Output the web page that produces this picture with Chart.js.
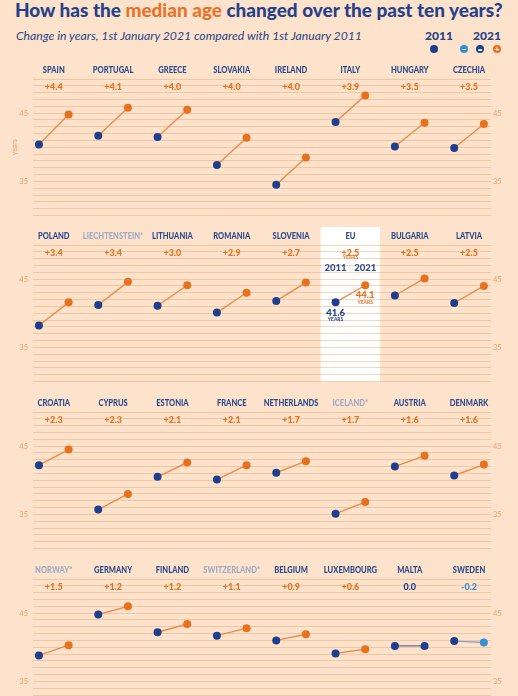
<!DOCTYPE html>
<html>
<head>
<meta charset="utf-8">
<script src="https://cdn.jsdelivr.net/npm/chart.js@4.4.1/dist/chart.umd.min.js"></script>
<style>
  body { margin: 0; width: 518px; height: 696px; overflow: hidden; background: #fde3cb; position: relative; font-family: Lato, 'Open Sans', sans-serif; }
  .txt { position: absolute; white-space: nowrap; line-height: 1; }
  #title { left: 15px; top: 1px; font-size: 17px; font-weight: 900; color: #27418a; }
  #title .hl { color: #e8732a; }
  #subtitle { left: 16px; top: 30px; font-size: 11px; font-style: italic; color: #2c4589; }
  .yr { top: 30px; font-size: 12px; font-weight: 900; color: #27418a; transform: translateX(-50%); }
  .dot { position: absolute; width: 8px; height: 8px; border-radius: 50%; top: 45px; color: #fff; font: 900 8px/8px Lato, sans-serif; text-align: center; }
  canvas { position: absolute; left: 0; }
</style>
</head>
<body>
<div id="title" class="txt">How has the <span class="hl">median age</span> changed over the past ten years?</div>
<div id="subtitle" class="txt">Change in years, 1st January 2021 compared with 1st January 2011</div>
<div class="txt yr" style="left:439px">2011</div>
<div class="txt yr" style="left:487px">2021</div>
<div class="dot" style="left:430px;background:#1e3f8e"></div>
<div class="dot" style="left:460px;background:#3390d4">&minus;</div>
<div class="dot" style="left:476px;background:#1e3f8e">=</div>
<div class="dot" style="left:493px;background:#e8711f">+</div>

<canvas id="row0" width="518" height="170" style="top:55px"></canvas>
<canvas id="row1" width="518" height="170" style="top:221px"></canvas>
<canvas id="row2" width="518" height="170" style="top:388px"></canvas>
<canvas id="row3" width="518" height="170" style="top:555px"></canvas>

<script>
// countries in reading order, 8 per row; * = not EU member
const countries = [
  'SPAIN', 'PORTUGAL', 'GREECE', 'SLOVAKIA', 'IRELAND', 'ITALY', 'HUNGARY', 'CZECHIA',
  'POLAND', 'LIECHTENSTEIN*', 'LITHUANIA', 'ROMANIA', 'SLOVENIA', 'EU', 'BULGARIA', 'LATVIA',
  'CROATIA', 'CYPRUS', 'ESTONIA', 'FRANCE', 'NETHERLANDS', 'ICELAND*', 'AUSTRIA', 'DENMARK',
  'NORWAY*', 'GERMANY', 'FINLAND', 'SWITZERLAND*', 'BELGIUM', 'LUXEMBOURG', 'MALTA', 'SWEDEN'
];
const age2011 = [
  40.4, 41.7, 41.5, 37.4, 34.5, 43.7, 40.1, 39.9,
  38.2, 41.2, 41.1, 40.1, 41.8, 41.6, 42.6, 41.5,
  42.2, 35.7, 40.5, 40.1, 41.1, 35.1, 42.0, 40.7,
  38.8, 44.8, 42.2, 41.7, 41.0, 39.1, 40.2, 40.9
];
const age2021 = [
  44.8, 45.8, 45.5, 41.4, 38.5, 47.6, 43.6, 43.4,
  41.6, 44.6, 44.1, 43.0, 44.5, 44.1, 45.1, 44.0,
  44.5, 38.0, 42.6, 42.2, 42.8, 36.8, 43.6, 42.3,
  40.3, 46.0, 43.4, 42.8, 41.9, 39.7, 40.2, 40.7
];
const changes = [
  '+4.4', '+4.1', '+4.0', '+4.0', '+4.0', '+3.9', '+3.5', '+3.5',
  '+3.4', '+3.4', '+3.0', '+2.9', '+2.7', '+2.5', '+2.5', '+2.5',
  '+2.3', '+2.3', '+2.1', '+2.1', '+1.7', '+1.7', '+1.6', '+1.6',
  '+1.5', '+1.2', '+1.2', '+1.1', '+0.9', '+0.6', '0.0', '-0.2'
];
const yearLabels = ['2011', '2021'];
const axisTicks = [45, 35];

const NAVY = '#1e3f8e';
const NAME_BLUE = '#2f4c8e';
const NON_EU = '#a0abc6';
const ORANGE = '#e8711f';
const LINE_ORANGE = '#ec8a4e';
const LIGHT_BLUE = '#3390d4';
const GRID = 'rgba(236,146,84,0.38)';
const TICK = '#ef9f68';

// fit the header lines to the width they take in the original
function fitWidth(el, target) {
  const w = el.getBoundingClientRect().width;
  const fs = parseFloat(getComputedStyle(el).fontSize);
  el.style.fontSize = (fs * target / w) + 'px';
}
fitWidth(document.getElementById('title'), 488);
fitWidth(document.getElementById('subtitle'), 346);

function drawText(ctx, text, x, y, font, color, squeeze) {
  ctx.font = font;
  ctx.fillStyle = color;
  ctx.textAlign = 'center';
  ctx.textBaseline = 'middle';
  const w = ctx.measureText(text).width;
  ctx.fillText(text, x, y, w * (squeeze || 1));
}

const panelLabels = {
  id: 'panelLabels',
  beforeDraw(chart) {
    const row = chart.options.plugins.panelLabels.row;
    const { ctx, chartArea, scales: { x } } = chart;
    for (let i = 0; i < 8; i++) {
      if (countries[row * 8 + i] !== 'EU') continue;
      const left = x.getPixelForValue(i - 0.5);
      const right = x.getPixelForValue(i + 0.5);
      ctx.save();
      ctx.fillStyle = '#ffffff';
      ctx.fillRect(left, chartArea.top - 18, right - left, chartArea.bottom - chartArea.top + 18);
      ctx.restore();
    }
  },
  beforeDatasetsDraw(chart) {
    const row = chart.options.plugins.panelLabels.row;
    const { ctx, chartArea, scales: { x, y } } = chart;
    ctx.save();
    for (let i = 0; i < 8; i++) {
      const k = row * 8 + i;
      const cx = x.getPixelForValue(i);
      const name = countries[k];
      drawText(ctx, name, cx, chartArea.top - 9, '900 9px Lato', name.endsWith('*') ? NON_EU : NAME_BLUE, 0.84);
      const ch = parseFloat(changes[k]);
      const col = ch > 0 ? ORANGE : ch < 0 ? LIGHT_BLUE : NAVY;
      drawText(ctx, changes[k], cx, chartArea.top + 7.5, '900 9.5px Lato', col, 0.95);

      if (name === 'EU') {
        drawText(ctx, 'YEARS', cx, chartArea.top + 12.5, 'bold 5.5px Lato', ORANGE, 0.9);
        const xs = [x.getPixelForValue(i - 0.25), x.getPixelForValue(i + 0.25)];
        const vals = [age2011[k], age2021[k]];
        const cols = [NAVY, ORANGE];
        for (let j = 0; j < 2; j++) {
          drawText(ctx, yearLabels[j], xs[j], chartArea.top + 22.5, '900 10px Lato', NAME_BLUE, 0.95);
          const py = y.getPixelForValue(vals[j]);
          drawText(ctx, vals[j].toFixed(1), xs[j], py + 10, '900 10px Lato', cols[j], 0.95);
          drawText(ctx, 'YEARS', xs[j], py + 17, 'bold 5.5px Lato', cols[j], 0.9);
        }
      }
    }
    ctx.restore();
  }
};

function buildRow(r) {
  const datasets = [];
  for (let i = 0; i < 8; i++) {
    const k = r * 8 + i;
    const ch = parseFloat(changes[k]);
    const dot21 = ch > 0 ? ORANGE : ch < 0 ? LIGHT_BLUE : NAVY;
    const line = ch > 0 ? LINE_ORANGE : ch < 0 ? '#86a9cc' : '#5d6f9c';
    datasets.push({
      data: [{ x: i - 0.25, y: age2011[k] }, { x: i + 0.25, y: age2021[k] }],
      showLine: true,
      borderColor: line,
      borderWidth: 1.4,
      pointRadius: 4,
      pointHoverRadius: 4,
      pointBorderWidth: 0,
      pointBackgroundColor: [NAVY, dot21]
    });
  }

  const tickOpts = (pad) => ({
    stepSize: 1,
    autoSkip: false,
    maxTicksLimit: 30,
    padding: pad,
    color: TICK,
    font: { family: 'Lato', size: 7.5 },
    callback: v => axisTicks.includes(v) ? String(v) : ''
  });

  new Chart(document.getElementById('row' + r), {
    type: 'scatter',
    data: { datasets },
    plugins: [panelLabels],
    options: {
      responsive: false,
      animation: false,
      events: [],
      layout: { padding: { top: 24, bottom: 2.7, left: 0, right: 0 } },
      plugins: {
        legend: { display: false },
        tooltip: { enabled: false },
        panelLabels: { row: r }
      },
      scales: {
        x: { type: 'linear', min: -0.35, max: 7.37, display: false },
        y: {
          min: 30, max: 50, position: 'left',
          afterFit: s => { s.width = 33; },
          border: { display: false },
          grid: { color: GRID, lineWidth: 1, drawTicks: false },
          ticks: tickOpts(5),
          title: {
            display: r === 0, text: 'years', color: TICK,
            font: { family: 'Lato', size: 7 }, padding: { top: 11, bottom: 0 }
          }
        },
        y2: {
          min: 30, max: 50, position: 'right',
          afterFit: s => { s.width = 27; },
          border: { display: false },
          grid: { display: false, drawTicks: false },
          ticks: tickOpts(2)
        }
      }
    }
  });
}

[0, 1, 2, 3].forEach(buildRow);
</script>
</body>
</html>
